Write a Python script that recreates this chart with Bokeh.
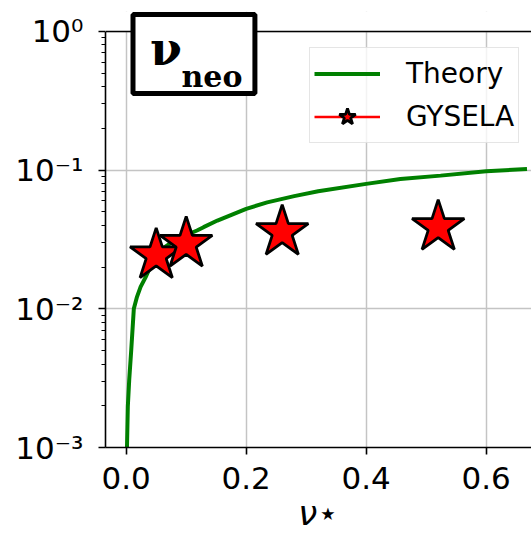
from bokeh.plotting import figure
from bokeh.models import (ColumnDataSource, Legend, LegendItem, Label, Span, BoxAnnotation,
                          FixedTicker, CustomJSTickFormatter, NumeralTickFormatter, Range1d)
from bokeh.embed import file_html
from bokeh.resources import INLINE

# ---- data ----
theory_nu_star = [0.0013, 0.0027, 0.005, 0.0083, 0.0127, 0.018, 0.024, 0.032, 0.04, 0.06, 0.08, 0.1,
                  0.118, 0.129, 0.152, 0.2, 0.235, 0.28, 0.32, 0.4, 0.457, 0.524, 0.6, 0.668]
theory_nu_neo = [0.001, 0.00197, 0.00306, 0.00497, 0.01, 0.0122, 0.0144, 0.0168, 0.02, 0.027, 0.031, 0.034,
                 0.0367, 0.0388, 0.0433, 0.0526, 0.0586, 0.065, 0.0704, 0.0796, 0.0864, 0.0913, 0.098, 0.102]
gysela_nu_star = [0.05, 0.1, 0.26, 0.52]
gysela_nu_neo = [0.0243, 0.0294, 0.0357, 0.0388]

x_ticks = [0.0, 0.2, 0.4, 0.6]
y_ticks = [1e-3, 1e-2, 1e-1, 1e0]
y_tick_labels = ["10\u207b\u00b3", "10\u207b\u00b2", "10\u207b\u00b9", "10\u2070"]
series_names = ["Theory", "GYSELA"]
x_label = "\u03bd\u22c6"
title_main = "\u03bd"
title_sub = "neo"

FONT = "DejaVu Sans"
Y_MIN, Y_MAX = y_ticks[0], y_ticks[-1]

# frame reaches up to the top of the boxed title; the axes box itself ends at y = 1
p = figure(width=531, height=544, y_axis_type="log",
           x_range=Range1d(-0.0345, 0.6755), y_range=Range1d(Y_MIN, 1.393),
           output_backend="svg", toolbar_location=None,
           min_border_left=105, min_border_right=0, min_border_top=11, min_border_bottom=97)
p.outline_line_color = None
p.background_fill_color = "white"

# axes
for ax in (p.xaxis[0], p.yaxis[0]):
    ax.axis_line_color = "black"
    ax.axis_line_width = 1.6
    ax.major_tick_line_color = "black"
    ax.major_tick_line_width = 1.6
    ax.major_tick_in = 0
    ax.major_tick_out = 7
    ax.major_label_text_font = FONT
    ax.major_label_text_font_size = "31px"
    ax.major_label_text_color = "black"

p.xaxis.ticker = FixedTicker(ticks=x_ticks)
p.xaxis.formatter = NumeralTickFormatter(format="0.0")
p.xaxis.minor_tick_line_color = None
p.xaxis.major_label_standoff = 12
p.xaxis.axis_label = x_label
p.xaxis.axis_label_text_font = FONT
p.xaxis.axis_label_text_font_style = "italic"
p.xaxis.axis_label_text_font_size = "34px"
p.xaxis.axis_label_text_color = "black"
p.xaxis.axis_label_standoff = 1

minor = [k * t for t in y_ticks[:-1] for k in range(2, 10)]
p.yaxis.ticker = FixedTicker(ticks=y_ticks, minor_ticks=minor)
p.yaxis.bounds = (Y_MIN, Y_MAX)
p.yaxis.formatter = CustomJSTickFormatter(args=dict(tv=y_ticks, labels=y_tick_labels), code="""
    const lg = Math.round(Math.log10(tick));
    for (let i = 0; i < tv.length; i++) {
        if (Math.round(Math.log10(tv[i])) == lg) { return labels[i]; }
    }
    return "";
""")
p.yaxis.minor_tick_line_color = "black"
p.yaxis.minor_tick_line_width = 1.2
p.yaxis.minor_tick_in = 0
p.yaxis.minor_tick_out = 4
p.yaxis.major_label_standoff = 15

# grid
p.xgrid.grid_line_color = "#c4c4c4"
p.xgrid.grid_line_width = 1.5
p.ygrid.grid_line_color = "#c4c4c4"
p.ygrid.grid_line_width = 1.5
p.ygrid.minor_grid_line_color = None

# data
theory_src = ColumnDataSource(dict(x=theory_nu_star, y=theory_nu_neo))
gys_src = ColumnDataSource(dict(x=gysela_nu_star, y=gysela_nu_neo))
legend_line_src = ColumnDataSource(dict(x=[float("nan")], y=[float("nan")]))

theory_r = p.line("x", "y", source=theory_src, line_color="green", line_width=4)
gys_line_r = p.line("x", "y", source=legend_line_src, line_color="red", line_width=2.5)
stars_r = p.scatter("x", "y", source=gys_src, marker="star", size=55,
                    fill_color="red", line_color="black", line_width=2.8)

# blank strip above the axes box, and the top spine
p.add_layout(BoxAnnotation(bottom=Y_MAX, fill_color="white", fill_alpha=1.0, line_color=None))
p.add_layout(Span(location=Y_MAX, dimension="width", line_color="black", line_width=1.6))

legend = Legend(items=[LegendItem(label=series_names[0], renderers=[theory_r]),
                       LegendItem(label=series_names[1], renderers=[gys_line_r, stars_r])],
                location=(204, 304))
legend.label_text_font = FONT
legend.label_text_font_size = "28px"
legend.label_text_color = "black"
legend.glyph_width = 66
legend.glyph_height = 43
legend.spacing = 0
legend.padding = 4
legend.margin = 0
legend.label_standoff = 26
legend.border_line_color = "#cccccc"
legend.border_line_width = 1.5
legend.background_fill_color = "white"
legend.background_fill_alpha = 0.8
p.add_layout(legend)

# boxed title nu_neo
box = Label(x=27.5, y=433, x_units="screen", y_units="screen", text=title_main,
            text_font="DejaVu Serif", text_font_style="bold", text_font_size="46px",
            text_color="black", text_baseline="top", text_align="left",
            background_fill_color="white", border_line_color="black", border_line_width=5,
            padding=(17, 73, 7, 18))
p.add_layout(box)
sub = Label(x=76, y=371, x_units="screen", y_units="screen", text=title_sub,
            text_font="DejaVu Serif", text_font_style="bold", text_font_size="30px",
            text_color="black", text_baseline="alphabetic", text_align="left")
p.add_layout(sub)

open("out.html", "w").write(file_html(p, INLINE))
